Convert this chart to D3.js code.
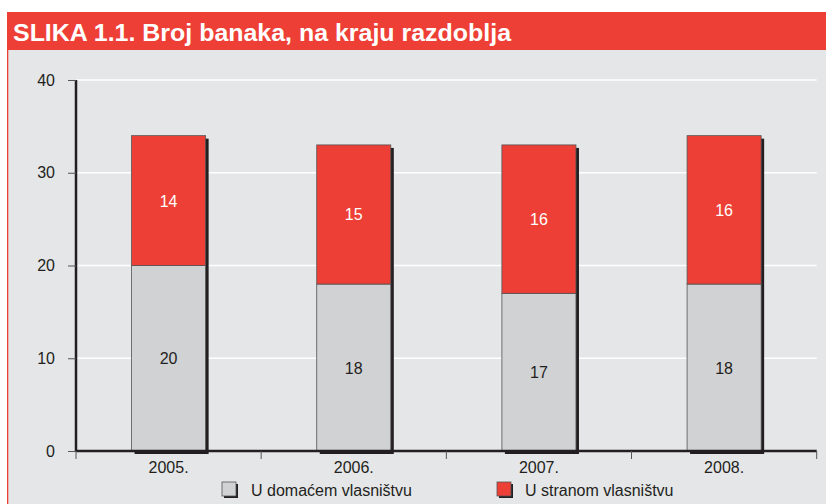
<!DOCTYPE html>
<html><head><meta charset="utf-8">
<script src="https://cdn.jsdelivr.net/npm/d3@7"></script>
<style>body{margin:0;background:#fff}svg{display:block}</style>
</head><body>
<script>
const categories = ["2005.", "2006.", "2007.", "2008."];
const domestic = [20, 18, 17, 18];
const foreign = [14, 15, 16, 16];
const yTicks = [0, 10, 20, 30, 40];
const seriesNames = ["U domaćem vlasništvu", "U stranom vlasništvu"];
const title = "SLIKA 1.1. Broj banaka, na kraju razdoblja";

const W = 826, H = 504;
const red = "#ee3f36", gray = "#d1d2d4", bg = "#e5e6e8";
const svg = d3.select("body").append("svg").attr("width", W).attr("height", H);
svg.append("rect").attr("x", 0).attr("y", 0).attr("width", W).attr("height", H).attr("fill", "#fff");
svg.append("rect").attr("x", 8).attr("y", 50).attr("width", W - 8).attr("height", H - 50).attr("fill", bg);
svg.append("rect").attr("x", 7).attr("y", 12).attr("width", W - 7).attr("height", 38).attr("fill", red);
svg.append("rect").attr("x", 7).attr("y", 50).attr("width", 1.3).attr("height", H - 50).attr("fill", red);
svg.append("text").attr("x", 13).attr("y", 41).attr("fill", "#fff")
  .attr("font-family", "Liberation Sans Narrow, Arial Narrow, Liberation Sans, Arial, sans-serif")
  .attr("font-weight", "bold").attr("font-size", 24).attr("textLength", 498).attr("lengthAdjust", "spacingAndGlyphs")
  .text(title);

const x0 = 76, x1 = 816.7, yTop = 80, yBot = 451;
const x = d3.scaleBand().domain(categories).range([x0, x1]).paddingInner(0.6).paddingOuter(0.3);
const y = d3.scaleLinear().domain([0, 40]).range([yBot, yTop]);

// gridlines
svg.append("g").selectAll("line").data(yTicks.filter(d => d > 0)).join("line")
  .attr("x1", x0).attr("x2", x1).attr("y1", d => y(d)).attr("y2", d => y(d))
  .attr("stroke", "#fff").attr("stroke-width", 1.5);

const data = categories.map((c, i) => ({c, d: domestic[i], f: foreign[i]}));
const bw = x.bandwidth();
const bars = svg.append("g");
// shadows
bars.selectAll("rect.sh").data(data).join("rect").attr("class", "sh")
  .attr("x", d => x(d.c) + 3).attr("y", d => y(d.d + d.f) + 3)
  .attr("width", bw).attr("height", d => y(0) - y(d.d + d.f))
  .attr("fill", "#231f20");
bars.selectAll("rect.dom").data(data).join("rect").attr("class", "dom")
  .attr("x", d => x(d.c)).attr("y", d => y(d.d)).attr("width", bw).attr("height", d => y(0) - y(d.d))
  .attr("fill", gray).attr("stroke", "#555").attr("stroke-width", 0.8);
bars.selectAll("rect.for").data(data).join("rect").attr("class", "for")
  .attr("x", d => x(d.c)).attr("y", d => y(d.d + d.f)).attr("width", bw).attr("height", d => y(d.d) - y(d.d + d.f))
  .attr("fill", red).attr("stroke", "#555").attr("stroke-width", 0.8);

const font = "Liberation Sans, Arial, sans-serif";
const fs = 16;
bars.selectAll("text.dl").data(data).join("text").attr("class", "dl")
  .attr("x", d => x(d.c) + bw / 2).attr("y", d => y(d.d / 2) + 6).attr("text-anchor", "middle")
  .attr("font-family", font).attr("font-size", fs).attr("fill", "#231f20").text(d => d.d);
bars.selectAll("text.fl").data(data).join("text").attr("class", "fl")
  .attr("x", d => x(d.c) + bw / 2).attr("y", d => y(d.d + d.f / 2) + 6).attr("text-anchor", "middle")
  .attr("font-family", font).attr("font-size", fs).attr("fill", "#fff").text(d => d.f);

// y axis
const ya = svg.append("g").attr("transform", `translate(${x0},0)`)
  .call(d3.axisLeft(y).tickValues(yTicks).tickSize(8).tickPadding(13));
ya.select(".domain").attr("stroke", "#231f20").attr("stroke-width", 2.5).attr("d", `M0,${yTop}V${yBot}`);
ya.selectAll(".tick line").attr("stroke", "#555");
ya.selectAll("text").attr("font-family", font).attr("font-size", fs).attr("fill", "#231f20");

// x axis
svg.append("line").attr("x1", x0).attr("x2", x1).attr("y1", yBot).attr("y2", yBot)
  .attr("stroke", "#231f20").attr("stroke-width", 2.5);
const bounds = d3.range(categories.length + 1).map(i => x0 + i * (x1 - x0) / categories.length);
svg.append("g").selectAll("line").data(bounds).join("line")
  .attr("x1", d => d).attr("x2", d => d).attr("y1", yBot).attr("y2", yBot + 8)
  .attr("stroke", "#555");
svg.append("g").selectAll("text").data(categories).join("text")
  .attr("x", d => x(d) + bw / 2).attr("y", yBot + 22).attr("text-anchor", "middle")
  .attr("font-family", font).attr("font-size", fs).attr("fill", "#231f20").text(d => d);

// legend
const leg = [{n: seriesNames[0], c: gray, x: 222, tx: 251}, {n: seriesNames[1], c: red, x: 497, tx: 525}];
const lg = svg.append("g").selectAll("g").data(leg).join("g");
lg.append("rect").attr("x", d => d.x + 2).attr("y", 484).attr("width", 14).attr("height", 14).attr("fill", "#231f20");
lg.append("rect").attr("x", d => d.x).attr("y", 482).attr("width", 14).attr("height", 14)
  .attr("fill", d => d.c).attr("stroke", "#555").attr("stroke-width", 0.8);
lg.append("text").attr("x", d => d.tx).attr("y", 496).attr("font-family", font).attr("font-size", fs)
  .attr("fill", "#231f20").text(d => d.n);
</script>
</body></html>
